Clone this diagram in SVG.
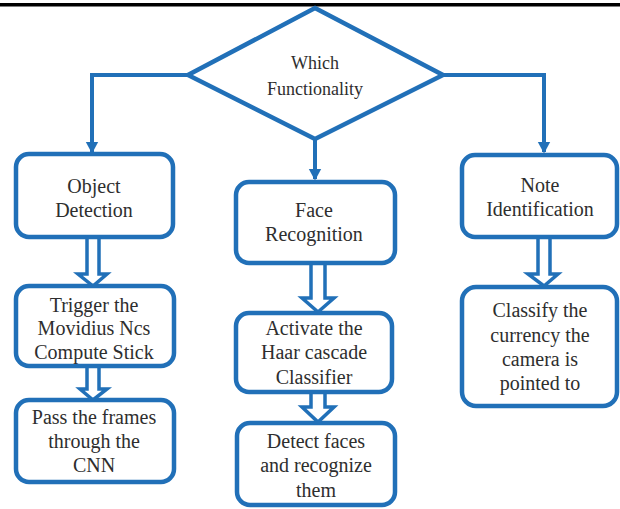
<svg xmlns="http://www.w3.org/2000/svg" width="620" height="509" viewBox="0 0 620 509">
<defs>
<style>
.box{fill:#ffffff;stroke:#2170b8;stroke-width:4.5}
.ln{fill:none;stroke:#2170b8;stroke-width:4}
.dbl{fill:#ffffff;stroke:#2170b8;stroke-width:3.5;stroke-linejoin:miter}
text{font-family:"Times New Roman",Times,"Liberation Serif","DejaVu Serif","Noto Serif",FreeSerif,serif;fill:#2e2e2e;text-anchor:middle}
.t{font-size:20px}
.td{font-size:18px}
</style>
<marker id="ah" markerWidth="4" markerHeight="4" refX="2.6" refY="2" orient="auto" markerUnits="strokeWidth">
<path d="M0,0.4 L3,2 L0,3.6 Z" fill="#2170b8"/>
</marker>
</defs>
<rect x="0" y="0" width="620" height="509" fill="#ffffff"/>
<rect x="0" y="3" width="620" height="3.5" fill="#000000"/>
<g id="connectors">
<path class="ln" d="M188,75 H92 V152" marker-end="url(#ah)"/>
<path class="ln" d="M443,75 H544 V152" marker-end="url(#ah)"/>
<path class="ln" d="M315,138 V179" marker-end="url(#ah)"/>
<path class="dbl" d="M87,239 V274 H78 L93,286 L107,274 H99 V239"/>
<path class="dbl" d="M87,367 V389 H80 L93,400 L107,389 H99 V367"/>
<path class="dbl" d="M311,264 V298 H302 L318,312 L334,298 H325 V264"/>
<path class="dbl" d="M311,393 V407 H302 L318,422 L334,407 H325 V393"/>
<path class="dbl" d="M538,239 V274 H528 L544,286 L558,274 H550 V239"/>
</g>
<g id="decision">
<polygon class="box" points="315,8 443,75 315,139 188,75"/>
<text class="td" x="315" y="69">Which</text>
<text class="td" x="315" y="95">Functionality</text>
</g>
<g id="object-detection">
<rect class="box" x="16" y="154" width="157" height="83" rx="13"/>
<text class="t" x="94" y="193">Object</text>
<text class="t" x="94" y="217">Detection</text>
</g>
<g id="face-recognition">
<rect class="box" x="236" y="182" width="159" height="81" rx="13"/>
<text class="t" x="314" y="217">Face</text>
<text class="t" x="314" y="241">Recognition</text>
</g>
<g id="note-identification">
<rect class="box" x="462" y="155" width="155" height="82" rx="13"/>
<text class="t" x="540" y="192">Note</text>
<text class="t" x="540" y="216">Identification</text>
</g>
<g id="trigger">
<rect class="box" x="16" y="286" width="158" height="80" rx="13"/>
<text class="t" x="94" y="312">Trigger the</text>
<text class="t" x="94" y="335">Movidius Ncs</text>
<text class="t" x="94" y="359">Compute Stick</text>
</g>
<g id="pass-frames">
<rect class="box" x="16" y="400" width="158" height="82" rx="13"/>
<text class="t" x="94" y="424">Pass the frames</text>
<text class="t" x="94" y="448">through the</text>
<text class="t" x="94" y="472">CNN</text>
</g>
<g id="activate">
<rect class="box" x="236" y="313" width="156" height="79" rx="13"/>
<text class="t" x="314" y="335">Activate the</text>
<text class="t" x="314" y="359">Haar cascade</text>
<text class="t" x="314" y="384">Classifier</text>
</g>
<g id="detect-faces">
<rect class="box" x="237" y="423" width="158" height="82" rx="13"/>
<text class="t" x="316" y="448">Detect faces</text>
<text class="t" x="316" y="472">and recognize</text>
<text class="t" x="316" y="497">them</text>
</g>
<g id="classify">
<rect class="box" x="462" y="287" width="155" height="119" rx="14"/>
<text class="t" x="540" y="317">Classify the</text>
<text class="t" x="540" y="342">currency the</text>
<text class="t" x="540" y="366">camera is</text>
<text class="t" x="540" y="390">pointed to</text>
</g>
</svg>
